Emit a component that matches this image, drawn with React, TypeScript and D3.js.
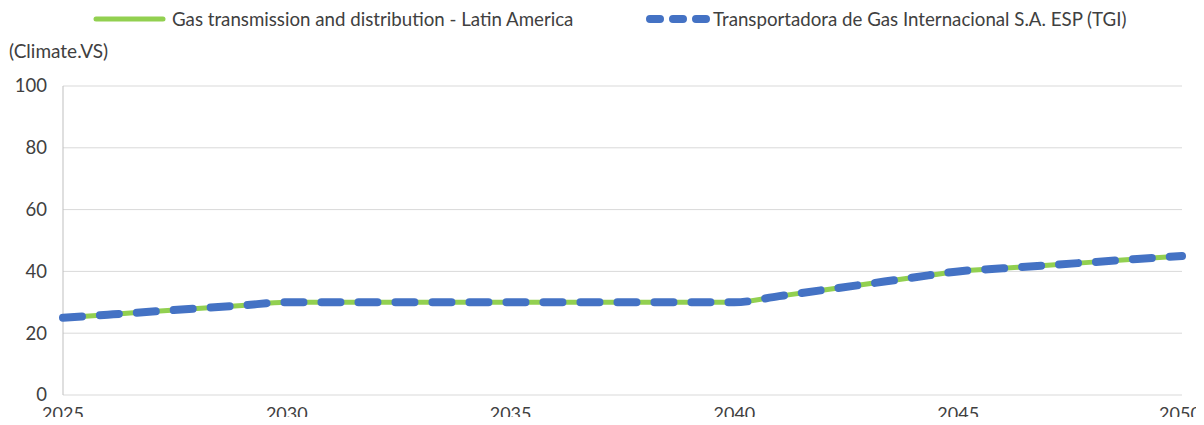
import { useEffect, useRef } from "react";
import * as d3 from "d3";

const years = d3.range(2025, 2051);
const regionValues = [
  25, 26, 27, 28, 29, 30, 30, 30, 30, 30, 30, 30, 30, 30, 30, 30, 32, 34, 36,
  38, 40, 41, 42, 43, 44, 45,
];
const companyValues = [
  25, 26, 27, 28, 29, 30, 30, 30, 30, 30, 30, 30, 30, 30, 30, 30, 32, 34, 36,
  38, 40, 41, 42, 43, 44, 45,
];
const yTicks = [0, 20, 40, 60, 80, 100];
const xTicks = [2025, 2030, 2035, 2040, 2045, 2050];
const seriesNames = [
  "Gas transmission and distribution - Latin America",
  "Transportadora de Gas Internacional S.A. ESP (TGI)",
];

export default function App() {
  const svgRef = useRef<SVGSVGElement>(null);

  useEffect(() => {
    if (!svgRef.current) return;
    const svg = d3.select(svgRef.current);
    svg.selectAll("*").remove();

    const font = "Lato, 'Open Sans', sans-serif";
    const textColor = "#404040";
    const x = d3.scaleLinear().domain([2025, 2050]).range([63, 1182]);
    const y = d3.scaleLinear().domain([0, 100]).range([395, 86]);

    // Gridlines
    svg
      .append("g")
      .selectAll("line")
      .data(yTicks)
      .join("line")
      .attr("x1", 63)
      .attr("x2", 1182)
      .attr("y1", (d) => y(d))
      .attr("y2", (d) => y(d))
      .attr("stroke", "#d9d9d9")
      .attr("stroke-width", 1);

    // Left axis line
    svg
      .append("line")
      .attr("x1", 63)
      .attr("x2", 63)
      .attr("y1", y(100))
      .attr("y2", y(0))
      .attr("stroke", "#bfbfbf")
      .attr("stroke-width", 1);

    // Y tick labels
    svg
      .append("g")
      .selectAll("text")
      .data(yTicks)
      .join("text")
      .attr("x", 47)
      .attr("y", (d) => y(d))
      .attr("dy", "0.35em")
      .attr("text-anchor", "end")
      .style("font-family", font)
      .style("font-size", "18.5px")
      .style("fill", textColor)
      .text((d) => d);

    // X tick labels (2050 pulled in so it stays on the page)
    svg
      .append("g")
      .selectAll("text")
      .data(xTicks)
      .join("text")
      .attr("x", (d) => Math.min(x(d), 1180))
      .attr("y", 420)
      .attr("text-anchor", "middle")
      .style("font-family", font)
      .style("font-size", "18px")
      .style("fill", textColor)
      .text((d) => d);

    // Axis title
    svg
      .append("text")
      .attr("x", 9)
      .attr("y", 58)
      .style("font-family", font)
      .style("font-size", "19px")
      .style("fill", textColor)
      .text("(Climate.VS)");

    const line = d3
      .line<number>()
      .x((_, i) => x(years[i]))
      .y((d) => y(d))
      .curve(d3.curveMonotoneX);

    svg
      .append("path")
      .attr("d", line(regionValues))
      .attr("fill", "none")
      .attr("stroke", "#92d050")
      .attr("stroke-width", 5)
      .attr("stroke-linecap", "round");

    svg
      .append("path")
      .attr("d", line(companyValues))
      .attr("fill", "none")
      .attr("stroke", "#4472c4")
      .attr("stroke-width", 8)
      .attr("stroke-linecap", "round")
      .attr("stroke-dasharray", "19 18");

    // Legend
    const legend = svg.append("g");
    legend
      .append("line")
      .attr("x1", 96)
      .attr("x2", 163)
      .attr("y1", 19)
      .attr("y2", 19)
      .attr("stroke", "#92d050")
      .attr("stroke-width", 5)
      .attr("stroke-linecap", "round");
    legend
      .append("text")
      .attr("x", 172)
      .attr("y", 19)
      .attr("dy", "0.35em")
      .style("font-family", font)
      .style("font-size", "18.7px")
      .style("fill", textColor)
      .text(seriesNames[0]);
    legend
      .append("line")
      .attr("x1", 650)
      .attr("x2", 706)
      .attr("y1", 19)
      .attr("y2", 19)
      .attr("stroke", "#4472c4")
      .attr("stroke-width", 8)
      .attr("stroke-linecap", "round")
      .attr("stroke-dasharray", "10 13");
    legend
      .append("text")
      .attr("x", 713)
      .attr("y", 19)
      .attr("dy", "0.35em")
      .style("font-family", font)
      .style("font-size", "18.7px")
      .style("fill", textColor)
      .text(seriesNames[1]);
  }, []);

  return (
    <div style={{ width: 1204, height: 425, margin: -8, overflow: "hidden" }}>
      <svg ref={svgRef} width={1204} height={425} style={{ display: "block" }} />
    </div>
  );
}
